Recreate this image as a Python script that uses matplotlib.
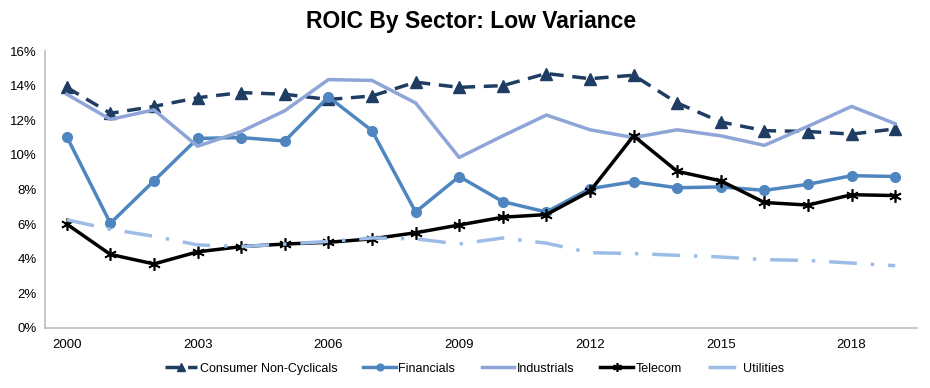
import matplotlib
matplotlib.use('Agg')
import matplotlib.pyplot as plt
from matplotlib.ticker import FuncFormatter

plt.rcParams['font.family'] = ['Liberation Sans', 'DejaVu Sans']

# data (ROIC, %)
years = list(range(2000, 2020))
consumer = [13.9, 12.4, 12.8, 13.3, 13.6, 13.5, 13.2, 13.4, 14.2, 13.9,
            14.0, 14.7, 14.4, 14.6, 13.0, 11.9, 11.4, 11.35, 11.2, 11.5]
financials = [11.05, 6.05, 8.5, 10.95, 11.0, 10.8, 13.35, 11.4, 6.7, 8.75,
              7.3, 6.7, 8.05, 8.45, 8.1, 8.15, 7.95, 8.3, 8.8, 8.75]
industrials = [13.5, 12.05, 12.6, 10.5, 11.35, 12.55, 14.35, 14.3, 13.0, 9.85,
               11.1, 12.3, 11.45, 11.0, 11.45, 11.1, 10.55, 11.65, 12.8, 11.8]
telecom = [6.0, 4.25, 3.7, 4.4, 4.7, 4.85, 4.95, 5.15, 5.5, 5.95,
           6.4, 6.55, 7.9, 11.1, 9.05, 8.5, 7.25, 7.1, 7.7, 7.65]
utilities = [6.25, 5.7, 5.3, 4.8, 4.7, 4.85, 5.0, 5.2, 5.15, 4.85,
             5.2, 4.9, 4.35, 4.3, 4.2, 4.1, 3.95, 3.9, 3.75, 3.6]
xtick_years = [2000, 2003, 2006, 2009, 2012, 2015, 2018]

fig = plt.figure(figsize=(9.3, 3.88), dpi=100)
ax = fig.add_axes([45/930, 60/388, 872/930, 277/388])

ax.plot(years, consumer, color='#1f3d63', lw=2.5, ls=(0, (4, 2.5)), marker='^',
        ms=8, label='Consumer Non-Cyclicals')
ax.plot(years, financials, color='#4f86c0', lw=2.5, marker='o', ms=7,
        label='Financials')
ax.plot(years, industrials, color='#8ea5d7', lw=2.5, label='Industrials')
ax.plot(years, telecom, color='black', lw=2.5, marker=(6, 2, 0), ms=9,
        mew=1.2, label='Telecom')
ax.plot(years, utilities, color='#9dbde6', lw=2.5, ls=(0, (8, 4, 1, 4)),
        label='Utilities')

ax.set_xlim(1999.5, 2019.5)
ax.set_ylim(0, 16)
ax.set_yticks(range(0, 17, 2))
ax.yaxis.set_major_formatter(FuncFormatter(lambda v, p: '%d%%' % v))
ax.set_xticks(xtick_years)
ax.tick_params(length=0, labelsize=9.5)
ax.tick_params(axis='x', pad=8)
ax.tick_params(axis='y', pad=6)
for s in ['top', 'right']:
    ax.spines[s].set_visible(False)
for s in ['left', 'bottom']:
    ax.spines[s].set_color('#bfbfbf')
    ax.spines[s].set_linewidth(1.2)

fig.text(0.507, 0.945, 'ROIC By Sector: Low Variance', ha='center', va='center',
         fontsize=16.5, fontweight='bold')
fig.legend(loc='center', bbox_to_anchor=(0.51, 0.05), ncol=5, frameon=False,
           fontsize=9, handlelength=2.6, handletextpad=0.2, columnspacing=2.1,
           markerscale=0.7)

fig.savefig('out.png', dpi=100)
